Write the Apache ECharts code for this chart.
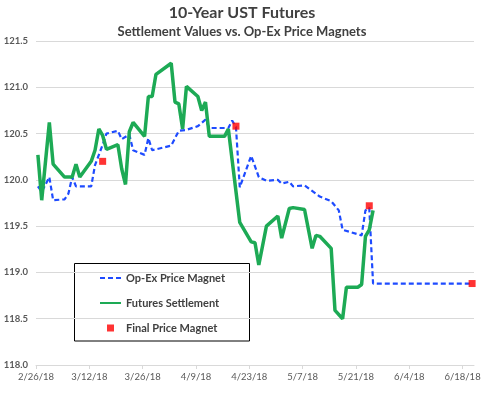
<!DOCTYPE html>
<html><head><meta charset="utf-8">
<script src="https://cdn.jsdelivr.net/npm/echarts@6/dist/echarts.min.js"></script>
<style>html,body{margin:0;padding:0;background:#fff}#c{width:484px;height:395px}</style>
</head><body><div id="c"></div>
<script>
// ---- data ----
const settleDates = ['2/26/18','2/27/18','3/1/18','3/2/18','3/5/18','3/7/18','3/8/18','3/9/18','3/12/18','3/13/18','3/14/18','3/15/18','3/16/18','3/19/18','3/20/18','3/21/18','3/22/18','3/23/18','3/26/18','3/27/18','3/28/18','3/29/18','4/2/18','4/3/18','4/4/18','4/5/18','4/6/18','4/9/18','4/10/18','4/11/18','4/12/18','4/16/18','4/17/18','4/20/18','4/23/18','4/24/18','4/25/18','4/27/18','4/30/18','5/1/18','5/3/18','5/4/18','5/7/18','5/9/18','5/10/18','5/11/18','5/14/18','5/15/18','5/17/18','5/18/18','5/21/18','5/22/18','5/23/18','5/24/18','5/25/18'];
const settleValues = [120.27,119.78,120.62,120.17,120.03,120.03,120.17,120.03,120.20,120.32,120.55,120.48,120.33,120.38,120.12,119.95,120.52,120.62,120.47,120.90,120.90,121.14,121.26,120.84,120.82,120.55,121.01,120.90,120.75,120.84,120.47,120.47,120.55,119.54,119.33,119.32,119.08,119.50,119.61,119.37,119.69,119.70,119.68,119.26,119.40,119.39,119.26,118.59,118.50,118.84,118.84,118.87,119.39,119.46,119.67];

const magnetDates = ['2/26/18','2/27/18','3/1/18','3/2/18','3/5/18','3/6/18','3/7/18','3/8/18','3/12/18','3/13/18','3/15/18','3/16/18','3/19/18','3/20/18','3/22/18','3/23/18','3/26/18','3/27/18','3/28/18','4/2/18','4/4/18','4/6/18','4/9/18','4/11/18','4/12/18','4/17/18','4/18/18','4/19/18','4/20/18','4/23/18','4/25/18','4/27/18','4/30/18','5/1/18','5/3/18','5/4/18','5/7/18','5/11/18','5/14/18','5/16/18','5/17/18','5/22/18','5/23/18','5/24/18','5/25/18','6/20/18'];
const magnetValues = [119.93,119.87,120.03,119.78,119.79,119.85,120.03,119.93,119.93,120.16,120.38,120.50,120.53,120.44,120.49,120.32,120.27,120.45,120.32,120.37,120.53,120.54,120.58,120.65,120.56,120.56,120.64,120.57,119.92,120.26,120.03,119.99,120.00,119.96,119.98,119.93,119.94,119.82,119.77,119.67,119.46,119.40,119.67,119.70,118.88,118.88];

const finalDates = ['3/15/18','4/19/18','5/24/18','6/20/18'];
const finalValues = [120.20,120.58,119.72,118.88];

const axisStartDate = '2/26/18';
const axisEndDate = '6/21/18';
const xTickLabels = ['2/26/18','3/12/18','3/26/18','4/9/18','4/23/18','5/7/18','5/21/18','6/4/18','6/18/18'];
const yTickLabels = ['118.0','118.5','119.0','119.5','120.0','120.5','121.0','121.5'];

// ---- helpers ----
function dayNum(s){const p=s.split('/').map(Number);return Date.UTC(2000+p[2],p[0]-1,p[1])/86400000;}
const base = dayNum(axisStartDate);
// date axis: each point sits in the middle of its day's slot
const pos = s => dayNum(s) - base + 0.5;
const tickPos = s => dayNum(s) - base;
function fmt(v){const d=new Date((base+v)*86400000);return (d.getUTCMonth()+1)+'/'+d.getUTCDate()+'/'+String(d.getUTCFullYear()).slice(2);}

const settleData = settleDates.map((d,i)=>[pos(d),settleValues[i]]);
const magnetData = magnetDates.map((d,i)=>[pos(d),magnetValues[i]]);
const finalData = finalDates.map((d,i)=>[pos(d),finalValues[i]]);
const xTicks = xTickLabels.map(tickPos);
const yTicks = yTickLabels.map(Number);

const FONT = 'Lato';
const chart = echarts.init(document.getElementById('c'), null, {renderer:'canvas'});
chart.setOption({
  animation:false,
  backgroundColor:'#ffffff',
  title:[
    {text:'10-Year UST Futures',left:'center',top:3,padding:0,
     textStyle:{fontFamily:FONT,fontSize:16,fontWeight:'bold',color:'#404040',lineHeight:20}},
    {text:'Settlement Values vs. Op-Ex Price Magnets',left:'center',top:24,padding:0,
     textStyle:{fontFamily:FONT,fontSize:13,fontWeight:'bold',color:'#404040',lineHeight:16}}
  ],
  grid:{left:36,right:10,top:41,bottom:30,containLabel:false},
  xAxis:{
    type:'value',min:0,max:tickPos(axisEndDate),interval:14,
    axisLine:{show:true,lineStyle:{color:'#D9D9D9',width:1}},
    axisTick:{show:true,length:4,lineStyle:{color:'#D9D9D9'},customValues:xTicks},
    axisLabel:{customValues:xTicks,formatter:fmt,fontFamily:FONT,fontSize:9.5,color:'#595959',margin:7},
    splitLine:{show:false}
  },
  yAxis:{
    type:'value',min:yTicks[0],max:yTicks[yTicks.length-1],interval:0.5,
    axisLine:{show:false},axisTick:{show:false},
    axisLabel:{formatter:v=>v.toFixed(1),fontFamily:FONT,fontSize:9.5,fontWeight:'bold',color:'#595959',margin:8},
    splitLine:{lineStyle:{color:'#D9D9D9',width:1}}
  },
  legend:{
    orient:'vertical',left:99,top:271,padding:0,itemWidth:21,itemHeight:7,itemGap:11,
    textStyle:{fontFamily:FONT,fontSize:11,fontWeight:'bold',color:'#404040',lineHeight:14},
    data:[
      {name:'Op-Ex Price Magnet',itemStyle:{opacity:0}},
      {name:'Futures Settlement',itemStyle:{opacity:0}},
      {name:'Final Price Magnet',icon:'path://M0,3.5L0,3.5M21,3.5L21,3.5M7,0H14V7H7Z'}
    ]
  },
  graphic:[{type:'rect',shape:{x:74.5,y:263.5,width:175,height:77.5},
    style:{fill:'#ffffff',stroke:'#000000',lineWidth:1},z:-1,zlevel:0}],
  series:[
    {name:'Op-Ex Price Magnet',type:'line',data:magnetData,symbol:'none',
     lineStyle:{color:'#1E4BFF',width:2.2,type:[5,3]},itemStyle:{color:'#1E4BFF'},z:2},
    {name:'Futures Settlement',type:'line',data:settleData,symbol:'none',
     lineStyle:{color:'#1DAA55',width:3.5},itemStyle:{color:'#1DAA55'},z:3},
    {name:'Final Price Magnet',type:'scatter',data:finalData,symbol:'rect',symbolSize:7,
     itemStyle:{color:'#FF0000'},z:4}
  ]
});
</script></body></html>
